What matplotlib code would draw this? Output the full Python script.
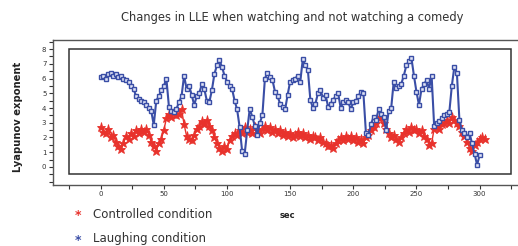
import matplotlib
matplotlib.use('Agg')
import matplotlib.pyplot as plt
from matplotlib.patches import Rectangle
from matplotlib.ticker import MultipleLocator

# controlled condition (red), sampled every 2 s
ctrl_t = list(range(0, 306, 2))
ctrl_y = [2.7, 2.4, 2.3, 2.6, 2.0, 2.2, 1.7, 1.4, 1.2, 1.6, 2.1, 1.9, 2.3, 2.1, 2.5, 2.3,
          2.6, 2.4, 2.6, 2.2, 1.7, 1.4, 1.1, 1.6, 1.9, 2.5, 3.3, 3.6, 3.4, 3.7, 3.5, 3.6,
          3.9, 2.9, 2.1, 1.9, 1.8, 2.2, 2.6, 2.8, 3.1, 2.9, 3.2, 2.8, 2.5, 2.0, 1.6, 1.3,
          1.1, 1.4, 1.2, 1.8, 2.1, 2.3, 2.2, 2.5, 2.3, 2.7, 2.4, 2.6, 2.3, 2.7, 2.5, 2.3,
          2.6, 2.8, 2.5, 2.7, 2.4, 2.6, 2.3, 2.5, 2.2, 2.4, 2.1, 2.3, 2.0, 2.2, 2.4, 2.1,
          2.3, 2.0, 2.2, 1.9, 2.1, 2.0, 1.8, 2.0, 1.7, 1.6, 1.4, 1.5, 1.3, 1.6, 1.8, 2.0,
          1.8, 2.1, 1.9, 2.1, 1.8, 2.0, 1.7, 1.9, 1.6, 2.0, 2.2, 2.5, 2.7, 3.0, 3.3, 3.4,
          3.0, 2.6, 2.3, 2.0, 2.2, 1.9, 1.7, 2.0, 2.3, 2.6, 2.4, 2.7, 2.5, 2.6, 2.3, 2.5,
          2.1, 1.9, 1.5, 1.6, 2.6, 2.8, 2.6, 2.9, 3.0, 3.2, 3.0, 3.4, 3.2, 3.0, 2.8, 2.4,
          2.1, 1.7, 1.3, 1.1, 1.5, 1.7, 1.9, 2.0, 1.9]

# laughing condition (blue), sampled every 2 s
laugh_t = list(range(0, 302, 2))
laugh_y = [6.1, 6.2, 6.0, 6.3, 6.4, 6.2, 6.3, 6.1, 6.2, 6.0, 5.9, 5.8, 5.5, 5.3, 4.8, 4.6,
           4.5, 4.4, 4.2, 4.0, 3.8, 2.85, 4.5, 4.8, 5.2, 5.5, 6.0, 4.1, 3.8, 3.75, 3.95, 4.4,
           4.8, 6.2, 5.3, 5.5, 4.9, 4.2, 4.8, 5.0, 5.6, 5.3, 4.5, 4.4, 5.2, 6.3, 6.9, 7.25,
           6.8, 6.2, 5.8, 5.5, 5.3, 4.5, 3.9, 2.7, 1.05, 0.9, 2.5, 3.95, 3.4, 2.8, 2.2, 3.0,
           3.5, 6.0, 6.4, 6.1, 5.9, 5.1, 4.8, 4.3, 4.1, 3.9, 4.9, 5.8, 5.9, 6.0, 6.2,
           5.8, 7.3, 6.9, 6.6, 4.55, 4.0, 4.3, 5.0, 5.2, 4.7, 4.9, 4.1, 4.3, 4.55, 4.8, 5.0,
           4.0, 4.4, 4.55, 4.4, 3.9, 4.4, 4.5, 4.8, 5.1, 5.0, 2.3, 2.2, 2.9, 3.4, 3.2, 3.9,
           3.6, 3.4, 2.5, 3.8, 4.0, 5.8, 5.35, 5.5, 5.65, 6.2, 6.9, 7.2, 7.4, 6.2, 5.1, 4.2,
           5.3, 5.6, 5.9, 5.3, 6.2, 2.8, 3.0, 3.1, 3.3, 3.5, 3.6, 3.7, 5.5, 6.8, 6.4, 3.2,
           2.5, 2.3, 2.05, 2.3, 1.6, 0.9, 0.14, 0.8]

red = '#e8322c'
blue = '#3a4ea6'

fig = plt.figure(figsize=(5.18, 2.46), dpi=100)
ax = fig.add_axes([0.103, 0.25, 0.897, 0.587])

ax.plot(ctrl_t, ctrl_y, color=red, lw=1.0, marker='*', ms=6.5, mec=red, mfc=red, mew=0.6)
ax.plot(laugh_t, laugh_y, color=blue, lw=1.5, marker='s', ms=3.2, mec=blue, mfc='#dfe3f5', mew=1.0)

# inner frame
ax.add_patch(Rectangle((-25, -0.5), 350, 8.5, fill=False, lw=1.1, ec='#333333', zorder=5))

ax.set_xlim(-37.5, 330.4)
ax.set_ylim(-1.19, 8.61)
ax.spines['right'].set_visible(False)
for s in ['left', 'bottom', 'top']:
    ax.spines[s].set_color('#555555')
    ax.spines[s].set_linewidth(1.0)

ax.set_xticks([0, 50, 100, 150, 200, 250, 300])
ax.xaxis.set_minor_locator(MultipleLocator(25))
ax.set_yticks(range(0, 9))
ax.yaxis.set_minor_locator(MultipleLocator(0.5))
ax.tick_params(which='both', direction='out', colors='#333333', labelsize=5, width=0.8)
ax.tick_params(which='major', length=3, pad=2)
ax.tick_params(which='minor', length=3)

fig.text(0.565, 0.93, 'Changes in LLE when watching and not watching a comedy',
         ha='center', va='center', fontsize=8.3, color='#333333')
fig.text(0.035, 0.525, 'Lyapunov exponent', rotation=90, ha='center', va='center',
         fontsize=7.2, fontweight='bold', color='#222222')
fig.text(0.555, 0.125, 'sec', ha='center', va='center', fontsize=6, fontweight='bold', color='#222222')

fig.text(0.15, 0.122, '*', ha='center', va='center', fontsize=9, fontweight='bold', color=red)
fig.text(0.18, 0.13, 'Controlled condition', ha='left', va='center', fontsize=8.5, color='#333333')
fig.text(0.15, 0.024, '*', ha='center', va='center', fontsize=9, fontweight='bold', color=blue)
fig.text(0.18, 0.032, 'Laughing condition', ha='left', va='center', fontsize=8.5, color='#333333')

fig.savefig('out.png', dpi=100)
